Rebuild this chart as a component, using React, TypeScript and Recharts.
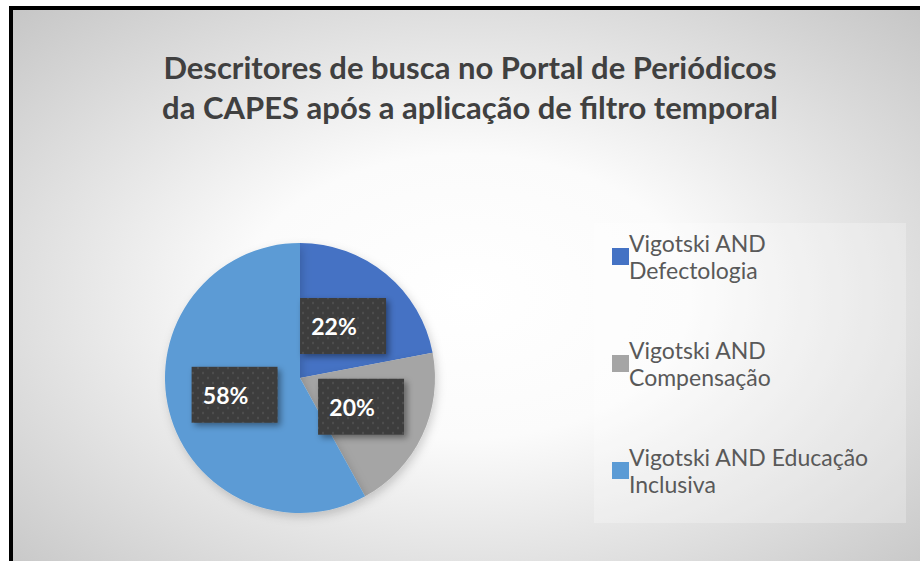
import * as React from "react";
import { PieChart, Pie, Cell, Legend } from "recharts";

const categories = [
  "Vigotski AND Defectologia",
  "Vigotski AND Compensação",
  "Vigotski AND Educação Inclusiva",
];
const legendLines = [
  ["Vigotski AND", "Defectologia"],
  ["Vigotski AND", "Compensação"],
  ["Vigotski AND Educação", "Inclusiva"],
];
const shares = [22, 20, 58];
const colors = ["#4472C4", "#A5A5A5", "#5B9BD5"];

const titleLines = [
  "Descritores de busca no Portal de Periódicos",
  "da CAPES após a aplicação de filtro temporal",
];

const data = categories.map((name, i) => ({ name, value: shares[i] }));

const FONT = "Lato, 'Open Sans', sans-serif";
const RADIAN = Math.PI / 180;

function renderLabel(props: any) {
  const { cx, cy, midAngle, outerRadius, percent } = props;
  const r = outerRadius * 0.5;
  const x = cx + r * Math.cos(-midAngle * RADIAN);
  const y = cy + r * Math.sin(-midAngle * RADIAN);
  const w = 86;
  const h = 56;
  return (
    <g>
      <rect
        x={x - w / 2}
        y={y - h / 2}
        width={w}
        height={h}
        fill="url(#dots)"
        filter="url(#boxShadow)"
      />
      <text
        x={x - 9}
        y={y}
        fill="#ffffff"
        textAnchor="middle"
        dominantBaseline="central"
        fontFamily={FONT}
        fontWeight={700}
        fontSize={23}
      >
        {Math.round(percent * 100)}%
      </text>
    </g>
  );
}

function LegendContent() {
  return (
    <div
      style={{
        width: 312,
        height: 300,
        background: "rgba(255,255,255,0.25)",
        fontFamily: FONT,
        fontSize: 23,
        color: "#595959",
        position: "relative",
      }}
    >
      {legendLines.map((lines, i) => (
        <div
          key={i}
          style={{ position: "absolute", left: 18, top: 7 + i * 107 }}
        >
          <div
            style={{
              position: "absolute",
              left: 0,
              top: 18,
              width: 17,
              height: 17,
              background: colors[i],
            }}
          />
          <div style={{ marginLeft: 17, lineHeight: "27px" }}>
            {lines.map((l, j) => (
              <div key={j}>{l}</div>
            ))}
          </div>
        </div>
      ))}
    </div>
  );
}

export default function App() {
  return (
    <div
      style={{
        position: "fixed",
        left: 0,
        top: 0,
        width: 920,
        height: 561,
        background: "#ffffff",
        overflow: "hidden",
      }}
    >
      <div
        style={{
          position: "absolute",
          left: 9,
          top: 6,
          width: 911,
          height: 555,
          background: "#000",
        }}
      />
      <div
        style={{
          position: "absolute",
          left: 13,
          top: 10,
          width: 907,
          height: 551,
          background:
            "radial-gradient(ellipse farthest-corner at 50% 52%, #ffffff 0%, #fbfbfb 35%, #c6c6c6 100%)",
        }}
      />
      <div
        style={{
          position: "absolute",
          left: 13,
          top: 47,
          width: 914,
          textAlign: "center",
          fontFamily: FONT,
          fontWeight: 700,
          fontSize: 31,
          lineHeight: "40px",
          color: "#404040",
        }}
      >
        {titleLines.map((t, i) => (
          <div key={i}>{t}</div>
        ))}
      </div>
      <div style={{ position: "absolute", left: 0, top: 0 }}>
        <PieChart
          width={920}
          height={561}
          margin={{ top: 0, right: 0, bottom: 0, left: 0 }}
        >
          <defs>
            <pattern
              id="dots"
              width="10"
              height="10"
              patternUnits="userSpaceOnUse"
            >
              <rect width="10" height="10" fill="#3d3d3d" />
              <circle cx="3" cy="3" r="1.2" fill="#4d4d4d" />
              <circle cx="8" cy="8" r="1.2" fill="#4d4d4d" />
            </pattern>
            <filter id="boxShadow" x="-20%" y="-20%" width="150%" height="150%">
              <feDropShadow dx="3" dy="3" stdDeviation="3" floodColor="#000" floodOpacity="0.4" />
            </filter>
            <filter id="pieShadow" x="-20%" y="-20%" width="140%" height="140%">
              <feDropShadow dx="2" dy="4" stdDeviation="5" floodColor="#000" floodOpacity="0.18" />
            </filter>
          </defs>
          <Pie
            data={data}
            dataKey="value"
            nameKey="name"
            cx={300}
            cy={378}
            outerRadius={135}
            startAngle={90}
            endAngle={-270}
            stroke="none"
            labelLine={false}
            label={renderLabel}
            isAnimationActive={false}
            style={{ filter: "url(#pieShadow)" }}
          >
            {data.map((d, i) => (
              <Cell key={d.name} fill={colors[i]} />
            ))}
          </Pie>
          <Legend
            content={<LegendContent />}
            wrapperStyle={{ left: 594, top: 223, width: 312 }}
          />
        </PieChart>
      </div>
    </div>
  );
}
